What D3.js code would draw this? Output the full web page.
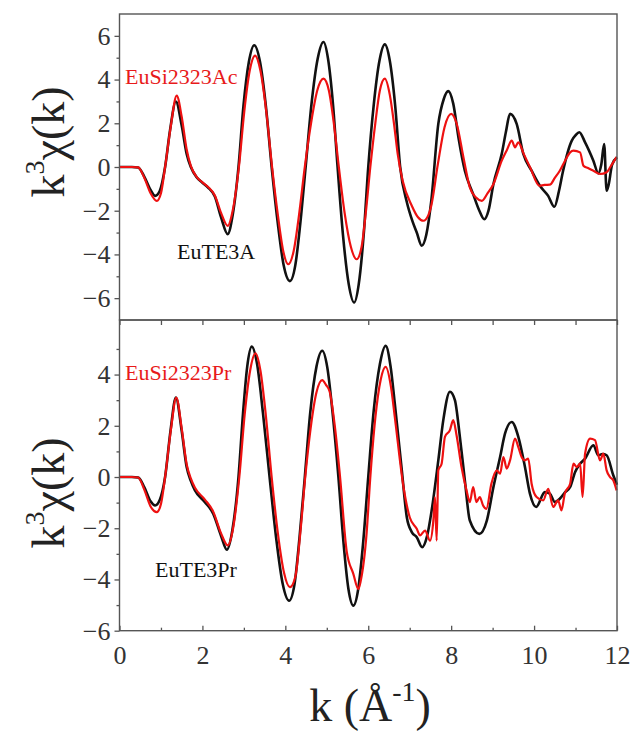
<!DOCTYPE html>
<html lang="en">
<head>
<meta charset="UTF-8">
<title>k3 chi(k)</title>
<script src="https://d3js.org/d3.v7.min.js"></script>
<style>
    body { margin: 0; background: #fff; }
    svg text { font-family: "Liberation Serif", "Times New Roman", serif; }
    .frame { fill: none; stroke: #555; stroke-width: 1.4px; }
    .axis path { display: none; }
    .axis line { stroke: #555; stroke-width: 1.3px; }
    .axis text { font-family: "Liberation Serif", "Times New Roman", serif; font-size: 26px; fill: #333; }
    .line { fill: none; stroke-linejoin: round; }
</style>
</head>
<body>
<script>

// tick values
var xMajor = [0, 2, 4, 6, 8, 10, 12];
var xMinor = [1, 3, 5, 7, 9, 11];
var topMajor = [-6, -4, -2, 0, 2, 4, 6];
var topMinor = [-5, -3, -1, 1, 3, 5];
var botMajor = [-6, -4, -2, 0, 2, 4];
var botMinor = [-5, -3, -1, 1, 3, 5];

// top panel: EuTE3A (black) and EuSi2323Ac (red), [k, k3chi]
var euTE3A = [[0,0],[0.3,0],[0.45,-0.02],[0.6,-0.45],[0.75,-1.05],[0.86,-1.32],[0.97,-1.1],[1.1,0],[1.22,1.7],[1.36,3.0],
    [1.5,1.9],[1.62,0.6],[1.72,0],[1.86,-0.47],[2.0,-0.72],[2.13,-0.93],[2.3,-1.35],[2.45,-2.3],[2.61,-3.07],[2.73,-2.2],
    [2.87,0],[2.99,2.8],[3.12,4.8],[3.25,5.57],[3.39,4.8],[3.53,2.8],[3.67,0],[3.82,-2.6],[3.96,-4.5],[4.11,-5.22],
    [4.24,-4.5],[4.36,-2.6],[4.49,0],[4.63,2.86],[4.78,4.95],[4.92,5.72],[5.03,4.95],[5.15,2.86],[5.26,0],[5.39,-3.1],
    [5.53,-5.37],[5.66,-6.2],[5.77,-5.37],[5.89,-3.1],[6.0,0],[6.13,2.8],[6.27,4.86],[6.4,5.61],[6.52,4.86],[6.65,2.8],
    [6.77,0],[6.93,-1.6],[7.07,-2.5],[7.17,-3.0],[7.29,-3.6],[7.4,-3.1],[7.52,-1.55],[7.69,1.97],[7.82,3.1],[7.93,3.47],
    [8.05,2.9],[8.18,1.3],[8.33,-0.17],[8.53,-1.24],[8.68,-2.0],[8.8,-2.39],[8.9,-2.0],[9.02,-0.78],[9.22,0.6],[9.32,1.6],
    [9.42,2.43],[9.58,1.97],[9.74,0.6],[9.94,-0.17],[10.14,-0.86],[10.34,-1.32],[10.49,-1.82],[10.6,-1.1],[10.7,-0.17],
    [10.91,1.21],[11.0,1.45],[11.09,1.59],[11.23,1.13],[11.43,0.29],[11.55,-0.29],[11.62,0.1],[11.69,1.05],[11.75,-1.09],
    [11.8,-0.8],[11.88,0.1],[12,0.45]];

var euSi2323Ac = [[0,0],[0.3,0],[0.45,-0.02],[0.6,-0.5],[0.75,-1.2],[0.9,-1.55],[1.0,-1.2],[1.1,0],[1.24,1.9],[1.38,3.27],
    [1.5,2.3],[1.62,0.8],[1.72,0.05],[1.86,-0.45],[2.0,-0.7],[2.13,-0.9],[2.3,-1.3],[2.45,-2.1],[2.61,-2.69],[2.73,-2.0],
    [2.88,0],[3.01,2.55],[3.14,4.4],[3.27,5.1],[3.4,4.4],[3.54,2.55],[3.68,0],[3.82,-2.2],[3.95,-3.85],[4.07,-4.45],
    [4.2,-3.85],[4.33,-2.2],[4.47,0],[4.62,2.0],[4.77,3.5],[4.92,4.04],[5.05,3.5],[5.17,2.0],[5.29,0],[5.43,-2.1],
    [5.58,-3.65],[5.72,-4.22],[5.84,-3.65],[5.94,-2.1],[6.05,0],[6.17,2.0],[6.28,3.5],[6.4,4.04],[6.52,3.3],[6.62,2.0],
    [6.71,0.6],[6.83,-0.63],[7.05,-1.77],[7.2,-2.3],[7.33,-2.46],[7.45,-2.2],[7.52,-1.77],[7.68,0.14],[7.84,1.82],[8.0,2.43],
    [8.13,2.0],[8.3,0.4],[8.45,-0.93],[8.6,-1.4],[8.74,-1.55],[8.88,-1.2],[9.02,-0.78],[9.22,0.29],[9.35,0.8],[9.46,1.21],
    [9.54,0.9],[9.62,1.13],[9.75,0.6],[9.9,0],[10.13,-0.86],[10.25,-0.82],[10.38,-0.81],[10.5,-0.5],[10.62,-0.17],
    [10.75,0.3],[10.87,0.67],[10.95,0.75],[11.11,0.67],[11.19,0.06],[11.3,-0.05],[11.43,-0.17],[11.59,-0.32],[11.75,-0.24],
    [11.87,0.1],[11.99,0.45]];

// bottom panel: EuTE3Pr (black) and EuSi2323Pr (red)
var euTE3Pr = [[0,0],[0.3,0],[0.45,-0.02],[0.6,-0.4],[0.75,-0.95],[0.86,-1.11],[0.97,-0.9],[1.1,0],[1.23,1.8],[1.36,3.1],
    [1.5,1.8],[1.62,0.39],[1.72,-0.15],[1.82,-0.52],[2.06,-0.98],[2.26,-1.43],[2.45,-2.3],[2.59,-2.84],[2.72,-2.1],
    [2.87,0],[2.98,2.5],[3.08,4.3],[3.19,5.09],[3.32,4.4],[3.46,2.5],[3.62,0],[3.78,-2.4],[3.94,-4.2],[4.09,-4.83],
    [4.22,-4.2],[4.34,-2.4],[4.47,0],[4.6,2.5],[4.75,4.3],[4.89,4.93],[5.01,4.3],[5.14,2.5],[5.28,0],[5.4,-2.5],
    [5.52,-4.35],[5.64,-5.02],[5.76,-4.35],[5.88,-2.5],[6.0,0],[6.13,2.56],[6.28,4.4],[6.42,5.12],[6.54,4.3],[6.64,2.87],
    [6.81,0.26],[6.93,-1.57],[7.05,-2.15],[7.17,-2.35],[7.3,-2.74],[7.42,-2.3],[7.53,-1.3],[7.69,0.65],[7.81,2.22],
    [7.97,3.33],[8.09,3.0],[8.21,1.57],[8.33,-0.13],[8.45,-1.7],[8.68,-2.22],[8.86,-1.7],[9.02,-0.39],[9.18,0.78],
    [9.3,1.7],[9.46,2.15],[9.62,1.57],[9.78,0.39],[9.9,-0.65],[10.05,-1.17],[10.26,-0.59],[10.38,-0.65],[10.5,-0.98],
    [10.62,-0.85],[10.75,-0.59],[10.87,-0.39],[10.99,0.2],[11.11,0.52],[11.23,0.72],[11.43,1.24],[11.55,0.85],
    [11.65,0.9],[11.75,0.85],[11.91,0.07],[12,-0.3]];

var euSi2323Pr = [[0,0],[0.3,0],[0.45,-0.02],[0.6,-0.5],[0.75,-1.15],[0.9,-1.37],[1.0,-1.05],[1.1,0],[1.24,1.85],[1.37,3.1],
    [1.5,1.9],[1.62,0.5],[1.72,-0.05],[1.82,-0.42],[2.06,-0.88],[2.26,-1.35],[2.45,-2.2],[2.61,-2.67],[2.74,-2.0],
    [2.89,0],[3.02,2.45],[3.15,4.15],[3.28,4.83],[3.4,4.15],[3.53,2.4],[3.67,0],[3.82,-2.2],[3.97,-3.75],[4.11,-4.3],
    [4.24,-3.9],[4.36,-2.2],[4.48,0],[4.61,1.9],[4.75,3.3],[4.89,3.78],[4.98,3.6],[5.07,3.33],[5.2,1.9],[5.32,0],
    [5.48,-2.9],[5.64,-3.78],[5.76,-4.37],[5.82,-4.04],[5.96,-2.2],[6.05,0],[6.17,2.3],[6.3,3.8],[6.42,4.3],[6.55,3.5],
    [6.64,2.35],[6.85,-0.39],[7.0,-1.57],[7.17,-2.02],[7.25,-2.28],[7.37,-2.09],[7.49,-2.48],[7.57,-1.7],[7.61,-0.78],
    [7.65,-2.48],[7.69,0.26],[7.77,0.52],[7.85,1.57],[7.97,1.83],[8.05,2.22],[8.13,1.63],[8.25,0.39],[8.37,-0.52],
    [8.45,-0.98],[8.53,-0.39],[8.61,-0.98],[8.69,-0.78],[8.77,-1.11],[8.85,-1.24],[8.97,-0.26],[9.1,0.26],[9.18,0.13],
    [9.26,0.78],[9.34,0.33],[9.42,0.65],[9.54,1.5],[9.62,1.17],[9.7,0.78],[9.78,0.65],[9.86,0.72],[9.94,-0.26],
    [10.06,-0.78],[10.22,-0.91],[10.34,-0.46],[10.46,-1.17],[10.58,-0.91],[10.66,-1.3],[10.74,-0.65],[10.87,-0.26],
    [10.95,0.52],[11.03,0.39],[11.11,0.52],[11.17,-0.78],[11.23,0.91],[11.35,1.5],[11.47,1.44],[11.59,0.65],[11.67,0.91],
    [11.75,0.26],[11.83,0],[11.91,-0.13],[11.99,-0.52]];

var width = 636, height = 731;
var left = 119.5, right = 617, top1 = 14, mid = 320, bottom = 630.7;

var svg = d3.select("body").append("svg")
    .attr("width", width)
    .attr("height", height);

svg.append("rect").attr("width", width).attr("height", height).attr("fill", "#fff");

// scales
var x = d3.scaleLinear().domain([0, 12]).range([left, right]);
var yTop = d3.scaleLinear().domain([-7, 7]).range([mid, top1]);
var yBot = d3.scaleLinear().domain([-6, 6.13]).range([bottom, mid]);

function drawLine(data, y, color, w) {
    var line = d3.line()
        .x(function(d) { return x(d[0]); })
        .y(function(d) { return y(d[1]); })
        .curve(d3.curveMonotoneX);
    svg.append("path")
        .datum(data)
        .attr("class", "line")
        .attr("stroke", color)
        .attr("stroke-width", w)
        .attr("d", line);
}

drawLine(euTE3A, yTop, "#111", 2.6);
drawLine(euSi2323Ac, yTop, "#ee1111", 2.2);
drawLine(euTE3Pr, yBot, "#111", 2.6);
drawLine(euSi2323Pr, yBot, "#ee1111", 2.2);

function addAxis(axis, ty, tx) {
    svg.append("g").attr("class", "axis")
        .attr("transform", "translate(" + (tx || 0) + "," + (ty || 0) + ")")
        .call(axis)
        .attr("font-family", null)
        .attr("font-size", null);
}

// y axes (ticks outward)
addAxis(d3.axisLeft(yTop).tickValues(topMajor).tickSize(5).tickPadding(4), 0, left);
addAxis(d3.axisLeft(yTop).tickValues(topMinor).tickSize(3).tickFormat(""), 0, left);
addAxis(d3.axisLeft(yBot).tickValues(botMajor).tickSize(5).tickPadding(4), 0, left);
addAxis(d3.axisLeft(yBot).tickValues(botMinor).tickSize(3).tickFormat(""), 0, left);

// x axis at the bottom (ticks inward)
addAxis(d3.axisBottom(x).tickValues(xMajor).tickSize(-5).tickPadding(15), bottom);
addAxis(d3.axisBottom(x).tickValues(xMinor).tickSize(-3).tickFormat(""), bottom);
// ticks below the shared border
addAxis(d3.axisTop(x).tickValues(xMajor.concat(xMinor)).tickSize(-5).tickFormat(""), mid);

// frames
svg.append("rect").attr("class", "frame")
    .attr("x", left).attr("y", top1).attr("width", right - left).attr("height", mid - top1);
svg.append("rect").attr("class", "frame")
    .attr("x", left).attr("y", mid).attr("width", right - left).attr("height", bottom - mid);

// sample labels
function label(txt, px, py, color) {
    svg.append("text")
        .attr("x", px).attr("y", py)
        .attr("font-size", 22)
        .attr("fill", color)
        .text(txt);
}
label("EuSi2323Ac", 125, 84, "#e81a1a");
label("EuTE3A", 177, 259, "#111");
label("EuSi2323Pr", 125, 380, "#e81a1a");
label("EuTE3Pr", 155, 577, "#111");

// axis titles
function yTitle(cy) {
    var t = svg.append("text")
        .attr("transform", "translate(64," + cy + ") rotate(-90)")
        .attr("text-anchor", "middle")
        .attr("font-size", 46)
        .attr("fill", "#222");
    t.append("tspan").text("k");
    t.append("tspan").attr("font-size", 28).attr("dy", -20).text("3");
    t.append("tspan").attr("dy", 20).text("\u03c7(k)");
}
yTitle(142);
yTitle(493);

var xt = svg.append("text")
    .attr("x", 370).attr("y", 721)
    .attr("text-anchor", "middle")
    .attr("font-size", 46)
    .attr("fill", "#222");
xt.append("tspan").text("k (\u00c5");
xt.append("tspan").attr("font-size", 28).attr("dy", -20).text("-1");
xt.append("tspan").attr("dy", 20).text(")");

</script>
</body>
</html>
